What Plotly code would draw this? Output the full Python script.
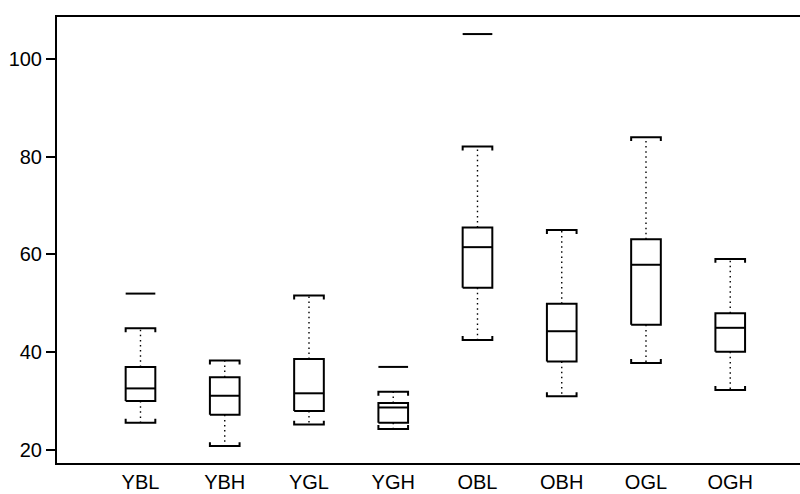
import plotly.graph_objects as go

labels = ["YBL", "YBH", "YGL", "YGH", "OBL", "OBH", "OGL", "OGH"]
lower_whisker = [25.6, 20.8, 25.2, 24.3, 42.5, 31.0, 37.8, 32.3]
q1 = [30.0, 27.2, 28.0, 25.6, 53.2, 38.1, 45.6, 40.1]
median = [32.6, 31.1, 31.6, 28.7, 61.5, 44.3, 57.9, 45.0]
q3 = [37.0, 34.9, 38.6, 29.6, 65.5, 49.9, 63.1, 48.0]
upper_whisker = [44.9, 38.3, 51.6, 31.9, 82.1, 65.0, 84.0, 59.1]
outlier_group = ["YBL", "YGH", "OBL"]
outlier_value = [52.0, 37.0, 105.1]

y_ticks = [20, 40, 60, 80, 100]

hw = 0.176      # half box width (category units)
tick = 0.8      # cap tick length (value units)

box_x, box_y = [], []
med_x, med_y = [], []
wh_x, wh_y = [], []
cap_x, cap_y = [], []
for i, name in enumerate(labels):
    c = i + 1
    l, r = c - hw, c + hw
    box_x += [l, r, r, l, l, None]
    box_y += [q1[i], q1[i], q3[i], q3[i], q1[i], None]
    med_x += [l, r, None]
    med_y += [median[i], median[i], None]
    wh_x += [c, c, None, c, c, None]
    wh_y += [q3[i], upper_whisker[i], None, q1[i], lower_whisker[i], None]
    u = upper_whisker[i]
    cap_x += [l, l, r, r, None]
    cap_y += [u - tick, u, u, u - tick, None]
    d = lower_whisker[i]
    cap_x += [l, l, r, r, None]
    cap_y += [d + tick, d, d, d + tick, None]

out_x, out_y = [], []
for g, v in zip(outlier_group, outlier_value):
    c = labels.index(g) + 1
    out_x += [c - hw, c + hw, None]
    out_y += [v, v, None]

fig = go.Figure()
fig.add_trace(go.Scatter(x=wh_x, y=wh_y, mode="lines",
                         line=dict(color="black", width=1.4, dash="1.5px,3.6px")))
fig.add_trace(go.Scatter(x=box_x, y=box_y, mode="lines",
                         line=dict(color="black", width=2)))
fig.add_trace(go.Scatter(x=med_x, y=med_y, mode="lines",
                         line=dict(color="black", width=2)))
fig.add_trace(go.Scatter(x=cap_x, y=cap_y, mode="lines",
                         line=dict(color="black", width=2)))
fig.add_trace(go.Scatter(x=out_x, y=out_y, mode="lines",
                         line=dict(color="black", width=2)))

fig.update_layout(
    width=800, height=494,
    margin=dict(l=57, r=0, t=17, b=31),
    paper_bgcolor="white", plot_bgcolor="white",
    showlegend=False, hovermode=False,
    font=dict(family="Liberation Sans, Arial, sans-serif", size=20, color="black"),
    xaxis=dict(range=[0.009, 8.828], tickvals=list(range(1, len(labels) + 1)),
               ticktext=labels, ticks="", showgrid=False, zeroline=False,
               showline=True, linecolor="black", linewidth=2, mirror=True,
               tickfont=dict(size=20)),
    yaxis=dict(range=[17.34, 108.59], tickvals=y_ticks, ticks="outside",
               ticklen=9, tickwidth=1.5, tickcolor="black",
               showgrid=False, zeroline=False,
               showline=True, linecolor="black", linewidth=2, mirror=False,
               tickfont=dict(size=20)),
)

fig.write_html("out.html")
